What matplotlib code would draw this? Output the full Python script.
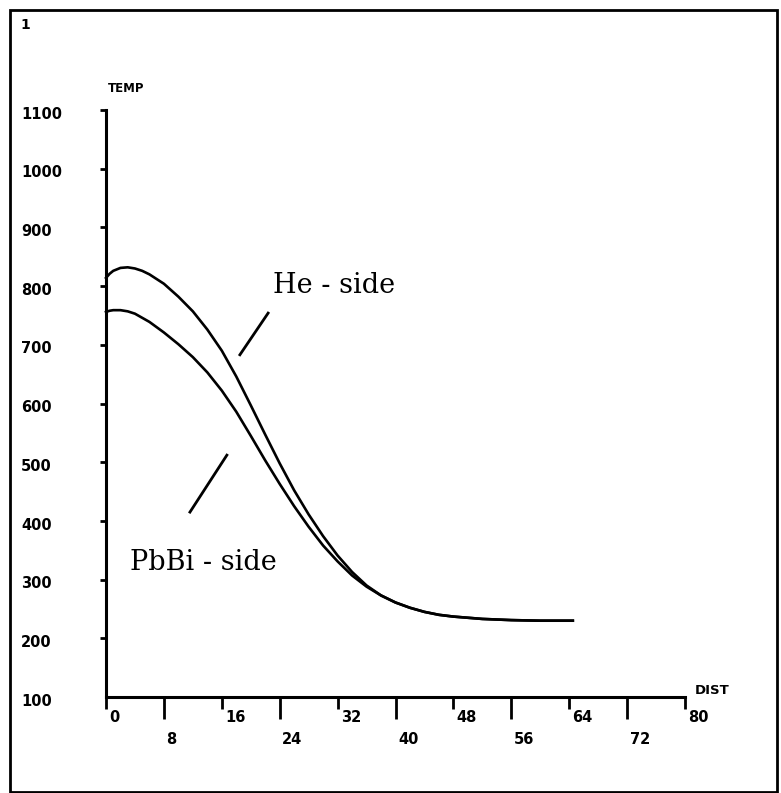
import matplotlib
matplotlib.use("Agg")
import matplotlib.pyplot as plt
from matplotlib.transforms import blended_transform_factory
from matplotlib.patches import Rectangle

# ---- data ----
dist = [0, 0.5, 1, 2, 3, 4, 5, 6, 8, 10, 12, 14, 16, 18, 20, 22, 24, 26, 28, 30, 32, 34,
        36, 38, 40, 42, 44, 46, 48, 52, 56, 60, 64.5]
temp_he = [814, 821, 826, 831, 832, 830, 826, 820, 804, 782, 757, 726, 690, 646, 597, 547, 498,
           452, 411, 374, 341, 313, 290, 273, 261, 252, 245, 240, 237, 233, 231, 230, 230]
temp_pbbi = [756, 758, 759, 759, 757, 753, 746, 739, 721, 701, 679, 653, 622, 586, 545, 503, 463,
             425, 390, 358, 331, 307, 288, 273, 261, 252, 245, 240, 237, 233, 231, 230, 230]

x_ticks_top = [0, 16, 32, 48, 64, 80]
x_ticks_bottom = [8, 24, 40, 56, 72]
y_ticks = [100, 200, 300, 400, 500, 600, 700, 800, 900, 1000, 1100]

W, H = 781, 793
fig = plt.figure(figsize=(W / 100, H / 100), dpi=100)
fig.patch.set_facecolor("white")

# axes placed in pixel space
x0, x1 = 106, 685
y0, y1 = 697, 110
ax = fig.add_axes([x0 / W, 1 - y0 / H, (x1 - x0) / W, (y0 - y1) / H])
ax.set_xlim(0, 80)
ax.set_ylim(100, 1100)
for s in ["top", "right"]:
    ax.spines[s].set_visible(False)
for s in ["left", "bottom"]:
    ax.spines[s].set_linewidth(2.2)
    ax.spines[s].set_color("black")

# ticks
ax.set_xticks(x_ticks_top)
ax.set_xticks(x_ticks_bottom, minor=True)
ax.tick_params(axis="x", which="major", direction="out", length=8.5, width=2, labelbottom=False)
ax.tick_params(axis="x", which="minor", direction="out", length=16, width=2, labelbottom=False)
ax.set_yticks(y_ticks[1:])
ax.tick_params(axis="y", which="major", direction="out", length=4.5, width=2, labelleft=False)
ax.yaxis.set_minor_locator(matplotlib.ticker.NullLocator())

lab_font = dict(family="DejaVu Sans", fontweight="bold", fontsize=10.5, color="black")

# y labels (left aligned at fixed pixel x)
ty = blended_transform_factory(fig.transFigure, ax.transData)
for v in y_ticks:
    ax.text(21 / W, v - 7, str(v), transform=ty, ha="left", va="center", clip_on=False, **lab_font)

# x labels
tx = blended_transform_factory(ax.transData, fig.transFigure)
for v in x_ticks_top:
    ax.text(v + 0.45, 1 - 718 / H, str(v), transform=tx, ha="left", va="center", clip_on=False, **lab_font)
for v in x_ticks_bottom:
    ax.text(v + 0.35, 1 - 739 / H, str(v), transform=tx, ha="left", va="center", clip_on=False, **lab_font)

# axis titles
fig.text(108 / W, 1 - 89 / H, "TEMP", ha="left", va="center", family="DejaVu Sans",
         fontweight="bold", fontsize=8.5)
fig.text(695 / W, 1 - 690 / H, "DIST", ha="left", va="center", family="DejaVu Sans",
         fontweight="bold", fontsize=9.5)
fig.text(20 / W, 1 - 25 / H, "1", ha="left", va="center", family="DejaVu Sans",
         fontweight="bold", fontsize=10)

# curves
ax.plot(dist, temp_he, color="black", lw=1.9, clip_on=False, solid_joinstyle="round")
ax.plot(dist, temp_pbbi, color="black", lw=1.9, clip_on=False, solid_joinstyle="round")

# annotation pointers
ax.plot([18.5, 22.4], [683, 754], color="black", lw=2)
ax.plot([11.6, 16.7], [415, 512], color="black", lw=2)
serif = dict(family="DejaVu Serif", fontsize=19.5, color="black")
ax.text(23.1, 788, "He - side", ha="left", va="baseline", **serif)
ax.text(3.3, 316, "PbBi - side", ha="left", va="baseline", **serif)

# outer frame
fig.patches.append(Rectangle((10 / W, 1 - 792 / H), (777 - 10) / W, (792 - 10) / H,
                             transform=fig.transFigure, fill=False, lw=2, edgecolor="black"))

fig.savefig("out.png", dpi=100, facecolor="white")
